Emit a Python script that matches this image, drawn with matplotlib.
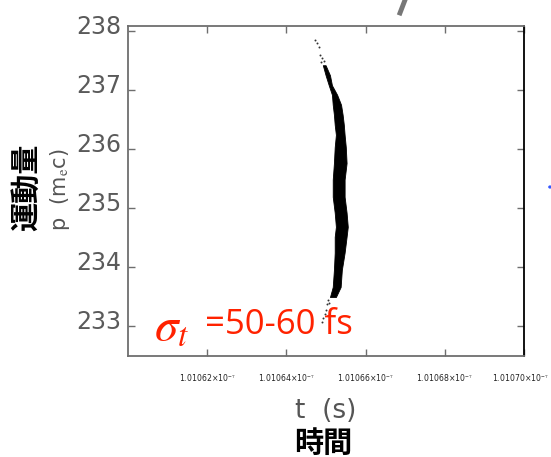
import numpy as np
import matplotlib
matplotlib.use("Agg")
import matplotlib.pyplot as plt
import matplotlib.transforms as mtransforms
from matplotlib.lines import Line2D

# bunch momentum vs arrival time
T0 = 1.01060e-7  # s, left edge of the time window
p_band = [237.42, 237.25, 237.08, 236.92, 236.75, 236.58, 236.41, 236.24, 236.03, 235.76,
          235.48, 235.19, 234.92, 234.68, 234.51, 234.24, 233.95, 233.66, 233.49]
t_left_ps = [4.92, 4.99, 5.07, 5.15, 5.17, 5.20, 5.22, 5.25, 5.22, 5.20,
             5.17, 5.17, 5.22, 5.25, 5.22, 5.22, 5.20, 5.17, 5.10]
t_right_ps = [4.99, 5.10, 5.15, 5.28, 5.38, 5.42, 5.45, 5.47, 5.50, 5.52,
              5.47, 5.47, 5.52, 5.55, 5.52, 5.47, 5.40, 5.37, 5.25]
# sparse particles in the head and tail
stray_t_ps = [4.72, 4.77, 4.82, 4.84, 4.89, 4.94, 4.87, 5.04, 5.02, 5.07, 4.99, 4.97, 4.92, 4.89]
stray_p = [237.85, 237.80, 237.73, 237.59, 237.54, 237.49, 237.47,
           233.44, 233.37, 233.39, 233.27, 233.20, 233.14, 233.07]

yticks = [233, 234, 235, 236, 237, 238]
xticks = [1.01062e-7, 1.01064e-7, 1.01066e-7, 1.01068e-7, 1.01070e-7]
xtick_labels = ["1.01062\u00d710$^{-7}$", "1.01064\u00d710$^{-7}$", "1.01066\u00d710$^{-7}$",
                "1.01068\u00d710$^{-7}$", "1.01070\u00d710$^{-7}$"]

t_left = T0 + np.array(t_left_ps) * 1e-12
t_right = T0 + np.array(t_right_ps) * 1e-12
stray_t = T0 + np.array(stray_t_ps) * 1e-12

plt.rcParams["mathtext.fontset"] = "stix"
GRAY = "#6e6e6e"
fig = plt.figure(figsize=(5.51, 4.57), dpi=100)
ax = fig.add_axes([0.2323, 0.221, 0.7187, 0.7228])

ax.fill_betweenx(p_band, t_left, t_right, color="black", lw=0.6, edgecolor="black")
ax.scatter(stray_t, stray_p, s=2, color="#333333", lw=0)

ax.set_xlim(1.01060e-7, 1.01070e-7)
ax.set_ylim(232.49, 238.09)
ax.set_yticks(yticks)
ax.set_yticklabels([str(v) for v in yticks], fontsize=17, color="#5a5a5a")
ax.set_xticks(xticks)
ax.set_xticklabels(xtick_labels, fontsize=5.6, color="#222222")
ax.tick_params(direction="in", length=5, width=1, colors=GRAY, top=True, right=True)
ax.tick_params(axis="x", pad=12, labelcolor="#222222")
ax.tick_params(axis="y", pad=5, labelcolor="#5a5a5a")
for lab in ax.get_yticklabels():
    lab.set_transform(lab.get_transform() + mtransforms.ScaledTranslation(0, 6 / 100, fig.dpi_scale_trans))
# the last time label sits right at the slide edge
last = ax.get_xticklabels()[-1]
last.set_transform(last.get_transform() + mtransforms.ScaledTranslation(-4 / 100, 0, fig.dpi_scale_trans))
for s in ["left", "top", "bottom"]:
    ax.spines[s].set_color(GRAY)
    ax.spines[s].set_linewidth(1.3)
ax.spines["right"].set_color("black")
ax.spines["right"].set_linewidth(1.3)
for line in ax.yaxis.get_ticklines()[1::2]:
    line.set_color("black")

# axis titles
fig.text(60 / 551, 1 - 190 / 457, "p  (m$_\\mathrm{e}$c)", rotation=90, ha="center", va="center",
         fontsize=15, color="#555555")
fig.text(26 / 551, 1 - 187 / 457, "運動量", rotation=90, ha="center", va="center",
         fontsize=21, fontweight="bold", family=["Noto Sans CJK JP", "DejaVu Sans"])
fig.text(326 / 551, 1 - 411 / 457, "t  (s)", ha="center", va="center",
         fontsize=19, color="#555555")
fig.text(323 / 551, 1 - 443 / 457, "時間", ha="center", va="center",
         fontsize=21, fontweight="bold", family=["Noto Sans CJK JP", "DejaVu Sans"])

# bunch length annotation
fig.text(154 / 551, 1 - 327 / 457, "$\\sigma_t$", ha="left", va="center",
         fontsize=34, color="#ff2200")
fig.text(205 / 551, 1 - 325 / 457, "=50-60 fs", ha="left", va="center",
         fontsize=25, color="#ff2200", family="Open Sans")

# slide leftovers
fig.add_artist(Line2D([405 / 551, 400 / 551], [1.0, 1 - 13 / 457], color="#777777", lw=3.5,
                      transform=fig.transFigure))
fig.add_artist(plt.Circle((550 / 551, 1 - 187 / 457), 0.002, color="#3355ff",
                          transform=fig.transFigure))

fig.savefig("out.png", dpi=100)
